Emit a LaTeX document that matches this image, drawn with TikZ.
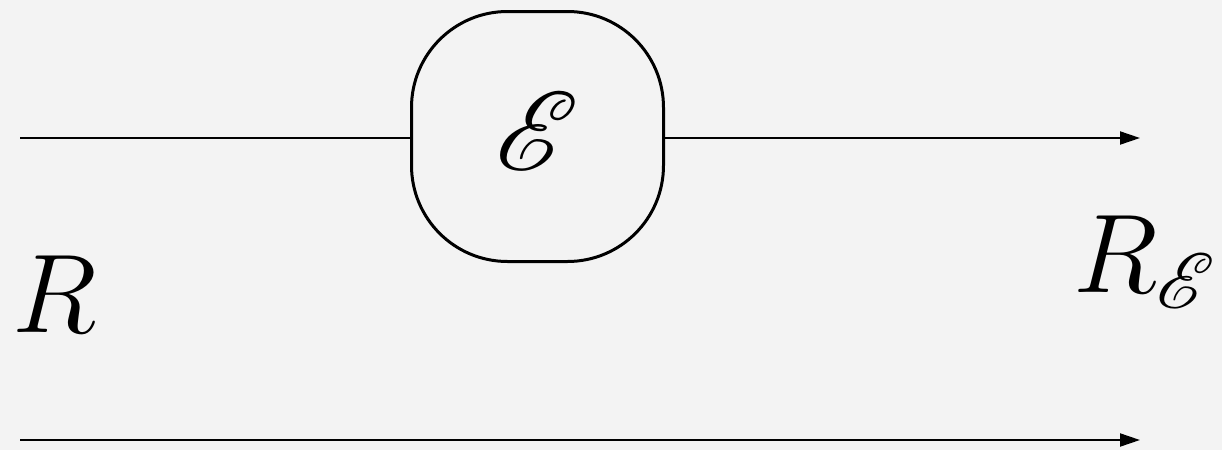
\documentclass[tikz,border=0pt]{standalone}
\usepackage{fix-cm}
\usepackage{amsmath,amssymb}
\usepackage{mathrsfs}
\DeclareFontFamily{U}{rsfs}{\skewchar\font127 }
\DeclareFontShape{U}{rsfs}{m}{n}{<-6> rsfs5 <6-8> rsfs7 <8-> rsfs10}{}
\usepackage{xcolor}
\usepackage{tikz}
\usetikzlibrary{arrows.meta,positioning}
\definecolor{paper}{RGB}{243,243,243}

\begin{document}
\begin{tikzpicture}[
  x=0.5pt, y=-0.5pt,
  font=\fontsize{56}{60}\selectfont,
  wire/.style={line width=1pt},
  flow/.style={wire, -{Triangle[length=10pt, width=6.5pt]}},
  channel/.style={draw, line width=1.5pt, rounded corners=48pt, minimum width=126pt, minimum height=125pt, inner sep=0pt},
  sys/.style={inner sep=0pt, outer sep=0pt}
]
\fill[paper] (0,0) rectangle (1222,450);
\useasboundingbox (0,0) rectangle (1222,450);
\node[channel] (chan) at (537.5,136.5) {};
\node[sys] (chanlbl) at (537,131) {$\mathscr{E}$};
\coordinate (inA) at (20,138);
\coordinate (outA) at (1140,138);
\coordinate (inB) at (20,440);
\coordinate (outB) at (1140,440);
\draw[wire] (inA) -- (chan.west |- inA);
\draw[flow] (chan.east |- outA) -- (outA);
\draw[flow] (inB) -- (outB);
\node[sys, anchor=base] (sysR) at (55,332) {$R$};
\node[sys, anchor=base west] (sysRE) at (1073,292) {$R_{\mathscr{E}}$};
\end{tikzpicture}
\end{document}
